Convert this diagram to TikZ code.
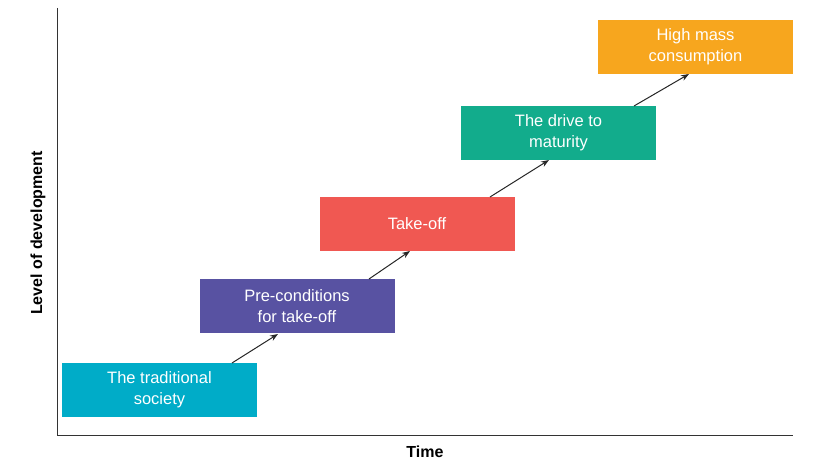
\documentclass[tikz,border=0pt]{standalone}
\usepackage{fontspec}
\usetikzlibrary{arrows.meta}
\setmainfont{Liberation Sans}
\begin{document}
\begin{tikzpicture}[x=1pt,y=-1pt,
 box/.style={draw=none,minimum width=195pt,minimum height=54pt,align=center,text=white,font=\fontsize{16.5}{21}\selectfont,inner sep=0pt},
 arr/.style={-{Stealth[length=8pt,width=6pt]},line width=1pt,black!85}]
\useasboundingbox (0,0) rectangle (814,468);
\draw[line width=1pt,black!80] (57,8) -- (57,435) -- (793,435);
\node[box,fill={rgb,255:red,0;green,172;blue,200}] (b1) at (159.5,390) {The traditional\\society};
\node[box,fill={rgb,255:red,88;green,82;blue,162}] (b2) at (297,306) {Pre-conditions\\for take-off};
\node[box,fill={rgb,255:red,240;green,88;blue,82}] (b3) at (417,224) {Take-off};
\node[box,fill={rgb,255:red,18;green,172;blue,140}] (b4) at (558.5,133) {The drive to\\maturity};
\node[box,fill={rgb,255:red,247;green,166;blue,30}] (b5) at (695.5,47) {High mass\\consumption};
\coordinate (a1s) at (232,363); \coordinate (a1e) at (278,334);
\coordinate (a2s) at (369,279); \coordinate (a2e) at (410,251);
\coordinate (a3s) at (490,197); \coordinate (a3e) at (549,160);
\coordinate (a4s) at (634,106); \coordinate (a4e) at (689,74);
\draw[arr] (a1s) -- (a1e);
\draw[arr] (a2s) -- (a2e);
\draw[arr] (a3s) -- (a3e);
\draw[arr] (a4s) -- (a4e);
\node[font=\fontsize{16}{19}\bfseries\selectfont,rotate=90] (yl) at (38,233) {Level of development};
\node[font=\fontsize{16}{19}\bfseries\selectfont] (xl) at (425,452) {Time};
\end{tikzpicture}
\end{document}
